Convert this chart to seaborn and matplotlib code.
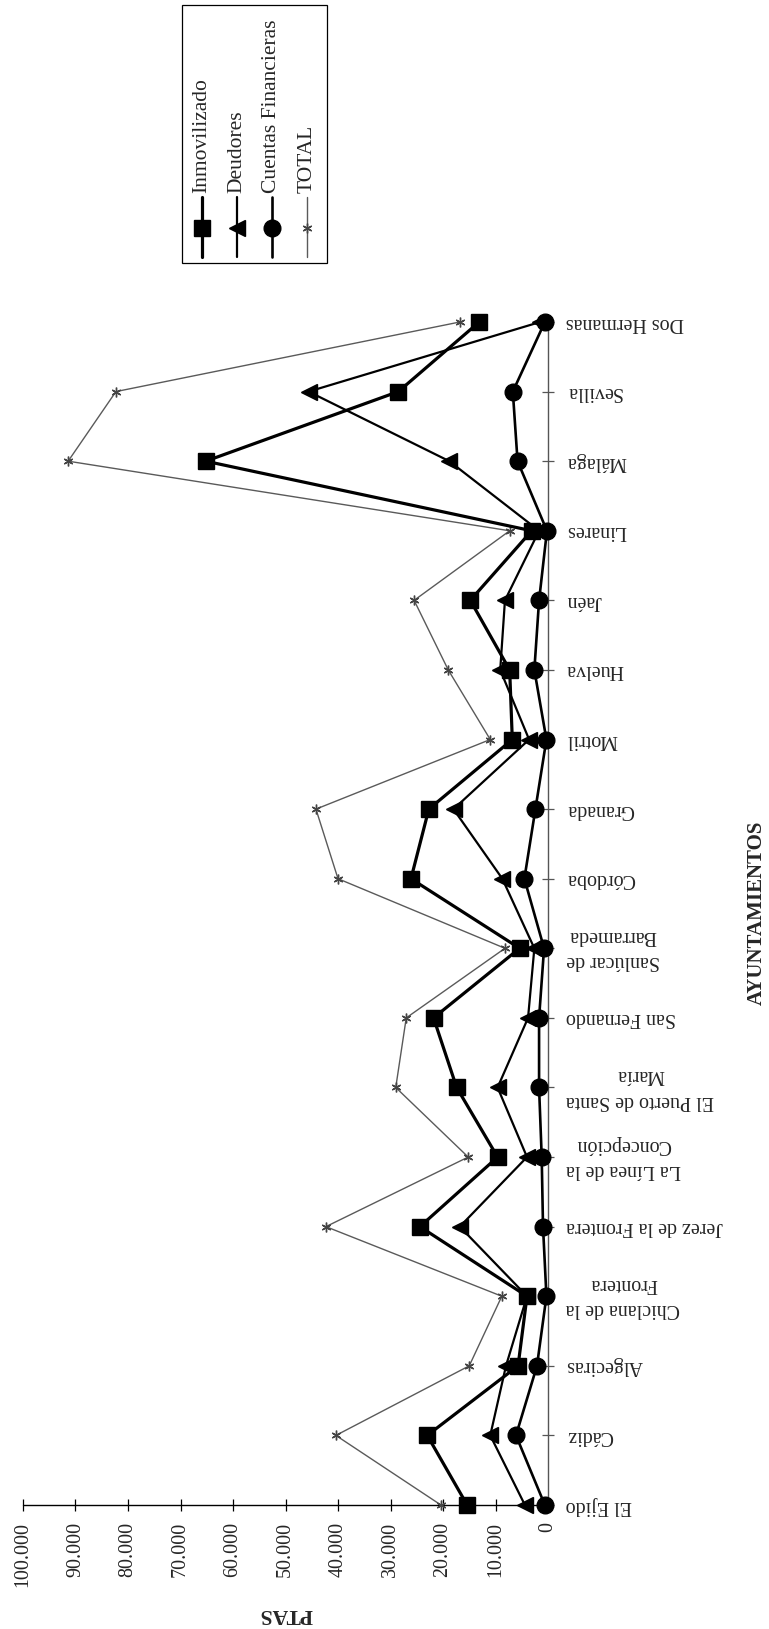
import numpy as np
import pandas as pd
import seaborn as sns
import matplotlib.pyplot as plt
from matplotlib.lines import Line2D
from matplotlib.patches import Rectangle
from matplotlib.ticker import FuncFormatter

# Datos (PTAS) por ayuntamiento
municipios = ["El Ejido", "Cádiz", "Algeciras", "Chiclana de la\nFrontera",
              "Jerez de la Frontera", "La Línea de la\nConcepción",
              "El Puerto de Santa\nMaría", "San Fernando", "Sanlúcar de\nBarrameda",
              "Córdoba", "Granada", "Motril", "Huelva", "Jaén", "Linares",
              "Málaga", "Sevilla", "Dos Hermanas"]
inmovilizado = [15400, 23000, 5700, 4000, 24400, 9600, 17400, 21800, 5400,
                26100, 22700, 6800, 7300, 14800, 3100, 65200, 28500, 13100]
deudores = [4400, 11000, 8000, 4000, 16800, 4000, 9600, 3800, 2600,
            8700, 18000, 3600, 9100, 8200, 1700, 18800, 45600, 1500]
cuentas = [600, 6100, 2100, 300, 950, 1200, 1700, 1700, 750,
           4500, 2400, 300, 2600, 1700, 200, 5800, 6700, 600]
total = [20400, 40400, 15000, 8800, 42300, 15200, 29000, 27000, 8200,
         40000, 44200, 11000, 19000, 25500, 7300, 91400, 82300, 16800]
ticks_ptas = list(range(0, 100001, 10000))

sns.set_style("white")
plt.rcParams['font.family'] = ['Liberation Serif', 'DejaVu Serif']

W, H = 769, 1629
fig = plt.figure(figsize=(W / 100, H / 100), dpi=100)
ax = fig.add_axes([23 / W, 1 - 1505 / H, (548 - 23) / W, (1505 - 322) / H])

pos = np.arange(len(municipios))
df = pd.DataFrame({'pos': pos, 'Inmovilizado': inmovilizado, 'Deudores': deudores,
                   'Cuentas Financieras': cuentas, 'TOTAL': total})

# estilo de cada serie
estilos = {
    'Inmovilizado': dict(color='black', lw=2.3, marker='s', ms=11, mec='black'),
    'Deudores': dict(color='black', lw=1.6, marker='<', ms=11, mec='black'),
    'Cuentas Financieras': dict(color='black', lw=1.9, marker='o', ms=12, mec='black'),
    'TOTAL': dict(color='#5a5a5a', lw=1.0, marker=(6, 2, 0), ms=7, mec='#444444'),
}

for serie in ['TOTAL', 'Cuentas Financieras', 'Deudores', 'Inmovilizado']:
    e = estilos[serie]
    sns.lineplot(data=df, x=serie, y='pos', sort=False, estimator=None, ax=ax,
                 color=e['color'], linewidth=e['lw'], marker=e['marker'],
                 markersize=e['ms'], markeredgecolor=e['mec'], markeredgewidth=1,
                 clip_on=False, zorder=3)

ax.set_xlim(100000, 0)
ax.set_ylim(0, len(municipios) - 1)
ax.set_xlabel('')
ax.set_ylabel('')

# ejes dibujados a mano (eje de valores abajo, eje de categorias a la derecha)
for s in ax.spines.values():
    s.set_visible(False)
ax.plot([0, 1], [0, 0], transform=ax.transAxes, color='black', lw=1.0,
        clip_on=False, zorder=1)
ax.plot([1, 1], [0, 1], transform=ax.transAxes, color='#555555', lw=1.0,
        clip_on=False, zorder=1)

ax.set_xticks(ticks_ptas)
ax.xaxis.set_major_formatter(FuncFormatter(lambda v, p: f"{int(v):,}".replace(",", ".")))
ax.tick_params(axis='x', direction='inout', length=8, width=0.9, pad=8,
               labelsize=14.4, labelrotation=90, color='black', bottom=True)

ax.yaxis.tick_right()
ax.set_yticks(pos)
ax.set_yticklabels(municipios)
ax.tick_params(axis='y', direction='inout', length=8, width=0.9, pad=9,
               labelsize=14.4, color='#555555', right=True, left=False)
for lab in ax.get_yticklabels():
    lab.set_rotation(180)
    lab.set_ha('left')
    lab.set_va('center')
    lab.set_multialignment('center')
    lab.set_linespacing(1.45)

fig.text(757 / W, 1 - 913 / H, 'AYUNTAMIENTOS', rotation=90, ha='center',
         va='center', fontweight='bold', fontsize=15)
fig.text(286 / W, 1 - 1614 / H, 'PTAS', rotation=180, ha='center',
         va='center', fontweight='bold', fontsize=15.5)


def fx(px):
    return px / W


def fy(py):
    return 1 - py / H


# leyenda girada
fig.add_artist(Rectangle((fx(182), fy(263)), (327 - 182) / W, (263 - 5) / H,
                         transform=fig.transFigure, fill=False, lw=0.9,
                         edgecolor='black'))
for i, serie in enumerate(['Inmovilizado', 'Deudores', 'Cuentas Financieras', 'TOTAL']):
    e = estilos[serie]
    xc = 202 + 35 * i
    fig.add_artist(Line2D([fx(xc), fx(xc)], [fy(257), fy(197)], transform=fig.transFigure,
                          color=e['color'], lw=e['lw']))
    fig.add_artist(Line2D([fx(xc)], [fy(228)], transform=fig.transFigure, ls='none',
                          marker=e['marker'], ms=e['ms'], color=e['color'],
                          mec=e['mec'], mew=1))
    fig.text(fx(xc), fy(193), serie, rotation=90, ha='center', va='bottom',
             fontsize=15.5)

fig.savefig('out.png', dpi=100)
